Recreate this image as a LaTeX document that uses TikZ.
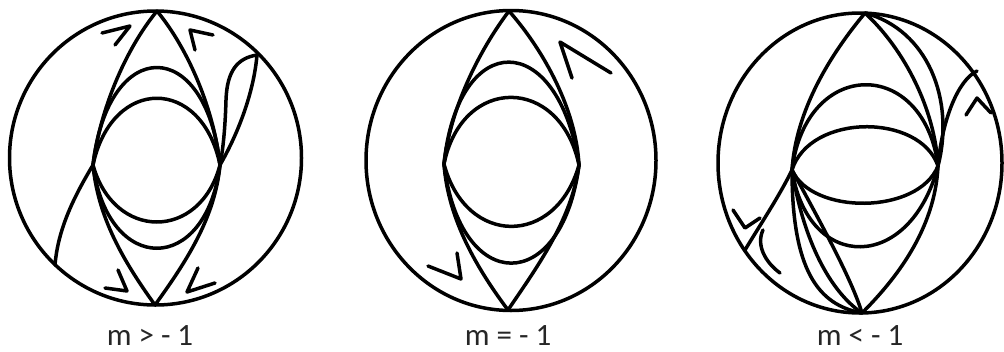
\documentclass[tikz,border=0pt]{standalone}
\usepackage{fontspec}
\setmainfont{Carlito}
\tikzset{
  curve/.style={line width=3.5pt, line cap=round, line join=round},
  lbl/.style={anchor=base, inner sep=0pt, font=\fontsize{31}{35}\selectfont, text=black!85}
}
\begin{document}
\begin{tikzpicture}[x=1pt,y=-1pt]
\useasboundingbox (0,0) rectangle (1004,351);
% ---------- panel 1 : m > -1 ----------
\coordinate (c1) at (155.5,158);
\coordinate (T1) at (157,11);
\coordinate (B1) at (155,305);
\coordinate (L1) at (93,165);
\coordinate (R1) at (220,165);
\coordinate (P1) at (257,55);
\coordinate (Q1) at (55,265);
\draw[curve] (c1) ellipse [x radius=146, y radius=147];
\draw[curve] (T1) .. controls (125,50) and (100,110) .. (L1);
\draw[curve] (T1) .. controls (189,50) and (214,110) .. (R1);
\draw[curve] (B1) .. controls (124,262) and (98,218) .. (L1);
\draw[curve] (B1) .. controls (186,262) and (215,218) .. (R1);
\draw[curve] (L1) .. controls (108,35) and (206,35) .. (R1);
\draw[curve] (L1) .. controls (112,76) and (202,76) .. (R1);
\draw[curve] (L1) .. controls (114,241) and (200,241) .. (R1);
\draw[curve] (L1) .. controls (108,276) and (206,276) .. (R1);
\draw[curve] (P1) .. controls (238,58) and (227,70) .. (226,100) .. controls (225,135) and (222,155) .. (R1);
\draw[curve] (P1) .. controls (254,90) and (240,130) .. (R1);
\draw[curve] (L1) .. controls (75,195) and (58,228) .. (Q1);
\draw[curve] (102,33) -- (130,26) -- (115,45);
\draw[curve] (213,35) -- (190,30) -- (195,50);
\draw[curve] (118,270) -- (127,291) -- (105,288);
\draw[curve] (198,268) -- (187,292) -- (215,283);
\node[lbl] (lab1) at (150,345) {m > - 1};
% ---------- panel 2 : m = -1 ----------
\coordinate (c2) at (511,160.5);
\coordinate (T2) at (509,11);
\coordinate (B2) at (508,310);
\coordinate (L2) at (444,164);
\coordinate (R2) at (579,165);
\draw[curve] (c2) ellipse [x radius=145, y radius=150];
\draw[curve] (T2) .. controls (478,52) and (450,110) .. (L2);
\draw[curve] (T2) .. controls (545,52) and (576,110) .. (R2);
\draw[curve] (B2) .. controls (478,270) and (448,220) .. (L2);
\draw[curve] (B2) .. controls (535,270) and (572,220) .. (R2);
\draw[curve] (L2) .. controls (458,28) and (558,28) .. (R2);
\draw[curve] (L2) .. controls (462,75) and (560,75) .. (R2);
\draw[curve] (L2) .. controls (466,247) and (556,247) .. (R2);
\draw[curve] (L2) .. controls (460,296) and (562,296) .. (R2);
\draw[curve] (572,78) -- (560,42) -- (611,73);
\draw[curve] (428,266) -- (461,279) -- (457,253);
\node[lbl] (lab2) at (508,345) {m = - 1};
% ---------- panel 3 : m < -1 ----------
\coordinate (c3) at (860,163);
\coordinate (T3) at (865,13);
\coordinate (B3) at (862,313);
\coordinate (L3) at (792,170);
\coordinate (R3) at (938,166);
\coordinate (P3) at (977,71);
\coordinate (Q3) at (745,250);
\draw[curve] (c3) ellipse [x radius=142, y radius=150];
\draw[curve] (T3) .. controls (830,55) and (796,110) .. (L3);
\draw[curve] (T3) .. controls (905,50) and (935,110) .. (R3);
\draw[curve] (T3) .. controls (928,30) and (955,100) .. (R3);
\draw[curve] (L3) .. controls (806,57) and (924,57) .. (R3);
\draw[curve] (L3) .. controls (810,113) and (920,113) .. (R3);
\draw[curve] (L3) .. controls (812,215) and (918,215) .. (R3);
\draw[curve] (L3) .. controls (808,273) and (910,273) .. (R3);
\draw[curve] (R3) .. controls (935,230) and (895,280) .. (B3);
\draw[curve] (L3) .. controls (792,270) and (818,305) .. (B3);
\draw[curve] (L3) .. controls (805,250) and (835,295) .. (B3);
\draw[curve] (L3) .. controls (822,225) and (852,280) .. (B3);
\draw[curve] (R3) .. controls (942,120) and (958,80) .. (P3);
\draw[curve] (L3) .. controls (780,195) and (760,225) .. (Q3);
\draw[curve] (966,115) -- (977,98) -- (991,113);
\draw[curve] (733,210) -- (745,228) -- (760,218);
\draw[curve] (763,230) .. controls (756,245) and (765,262) .. (780,273);
\node[lbl] (lab3) at (860,345) {m < - 1};
\end{tikzpicture}
\end{document}
